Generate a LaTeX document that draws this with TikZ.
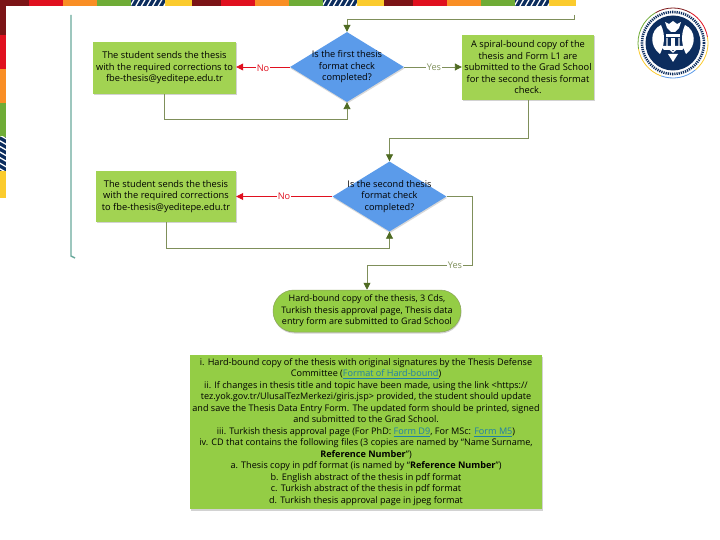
\documentclass[tikz,border=0pt]{standalone}
\usepackage{fontspec}
\setmainfont{Open Sans}
\usepackage{xcolor}
\usetikzlibrary{arrows.meta}
\usetikzlibrary{shapes.geometric}
\usetikzlibrary{shapes.misc}
\usetikzlibrary{shadows}
\definecolor{darkred}{HTML}{7B1416}
\definecolor{midred}{HTML}{E0101F}
\definecolor{midorange}{HTML}{F98E25}
\definecolor{midgreen}{HTML}{6FAC37}
\definecolor{midyellow}{HTML}{FBCB2D}
\definecolor{navy}{HTML}{0C2D5E}
\definecolor{boxgreen}{HTML}{A2D352}
\definecolor{bigboxgreen}{HTML}{94CD45}
\definecolor{diablue}{HTML}{5B9BEA}
\definecolor{linegreen}{HTML}{7F8F5A}
\definecolor{tipgreen}{HTML}{4F6B22}
\definecolor{linkblue}{HTML}{1F7FA8}
\definecolor{railteal}{HTML}{69A99C}
\tikzset{
  stepbox/.style={draw=none,fill=boxgreen,drop shadow={shadow xshift=0.5pt,shadow yshift=-1.5pt,opacity=0.35},align=center,font=\fontsize{9.3}{11.5}\selectfont,inner sep=0pt},
  checkdia/.style={shape=diamond,aspect=1.63,fill=diablue,draw=none,drop shadow={shadow xshift=0.5pt,shadow yshift=-1.5pt,opacity=0.3},minimum width=114pt,minimum height=70pt,inner sep=-12pt,align=center,font=\fontsize{9.2}{11.5}\selectfont},
  answer/.style={fill=white,inner sep=1pt,font=\fontsize{9.2}{10}\selectfont},
  goline/.style={draw=linegreen,line width=0.9pt},
  goarrow/.style={goline,-{Triangle[length=7pt,width=7pt,color=tipgreen]}},
  noarrow/.style={draw=midred,line width=0.8pt,-{Triangle[length=7pt,width=7pt]}},
}
\newcommand{\hlink}[1]{\textcolor{linkblue}{\underline{#1}}}
\begin{document}
\begin{tikzpicture}[x=1pt,y=-1pt]
\useasboundingbox (0,0) rectangle (720,540);
\fill[white] (0,0) rectangle (720,540);

\foreach \xa/\xb/\c in {0/29/darkred,29/63/midred,63/97/midorange,97/131/midgreen,165/192/midyellow,192/221/darkred,221/255/midred,255/289/midorange,289/323/midgreen,357/384/midyellow,384/413/darkred,413/447/midred,447/481/midorange,481/515/midgreen,549/576/midyellow}
  \fill[\c] (\xa,0) rectangle (\xb,6);
\foreach \xa/\xb in {131/165,323/357,515/549} {
  \fill[navy] (\xa,0) rectangle (\xb,6);
  \begin{scope}
    \clip (\xa,0) rectangle (\xb,6);
    \foreach \k in {0,...,6}
      \draw[white,line width=1.3pt] (\xa+\k*5.6-1,6.5) -- (\xa+\k*5.6+3,-0.5);
  \end{scope}
}
\foreach \ya/\yb/\c in {6/35/darkred,35/69/midred,69/103/midorange,103/137/midgreen,171/198/midyellow}
  \fill[\c] (0,\ya) rectangle (6,\yb);
\fill[navy] (0,137) rectangle (6,171);
\begin{scope}
  \clip (0,137) rectangle (6,171);
  \foreach \k in {0,...,6}
    \draw[white,line width=1.3pt] (-0.5,135+\k*5.6) -- (6.5,139+\k*5.6);
\end{scope}

\draw[railteal,line width=1.4pt] (71,15) -- (71,256) -- (75,258);

\node[stepbox,minimum width=143pt,minimum height=52pt] (sendone) at (164.5,68) {The student sends the thesis\\with the required corrections to\\fbe-thesis@yeditepe.edu.tr};
\node[stepbox,minimum width=140pt,minimum height=51pt] (sendtwo) at (166,196.5) {The student sends the thesis\\with the required corrections\\to fbe-thesis@yeditepe.edu.tr};
\node[stepbox,minimum width=132pt,minimum height=65pt] (spiral) at (528,67.5) {A spiral-bound copy of the\\thesis and Form L1 are\\submitted to the Grad School\\for the second thesis format\\check.};
\node[checkdia] (firstcheck) at (347,67) {Is the first thesis\\format check\\completed?};
\node[checkdia] (secondcheck) at (389.5,196.5) {Is the second thesis\\format check\\completed?};
\node[stepbox,fill=bigboxgreen,shape=rounded rectangle,draw=linegreen!70!boxgreen,line width=0.5pt,minimum width=188pt,minimum height=42pt,font=\fontsize{9}{11.5}\selectfont] (hardbound) at (367,311) {Hard-bound copy of the thesis, 3 Cds,\\Turkish thesis approval page, Thesis data\\entry form are submitted to Grad School};
\node[stepbox,fill=bigboxgreen,minimum width=352pt,minimum height=154pt,font=\fontsize{9.1}{11.5}\selectfont] (docs) at (366,432) {i. Hard-bound copy of the thesis with original signatures by the Thesis Defense\\Committee (\hlink{Format of Hard-bound})\\ii. If changes in thesis title and topic have been made, using the link <https://\\tez.yok.gov.tr/UlusalTezMerkezi/giris.jsp> provided, the student should update\\and save the Thesis Data Entry Form. The updated form should be printed, signed\\and submitted to the Grad School.\\iii. Turkish thesis approval page (For PhD: \hlink{Form D9}, For MSc: \hlink{Form M5})\\iv. CD that contains the following files (3 copies are named by “Name Surname,\\\textbf{Reference Number}”)\\a. Thesis copy in pdf format (is named by “\textbf{Reference Number}”)\\b. English abstract of the thesis in pdf format\\c. Turkish abstract of the thesis in pdf format\\d. Turkish thesis approval page in jpeg format};

\coordinate (intop) at (574,15);
\draw[goline] (intop) -- (574,19) -- (347,19);
\draw[goarrow] (347,19) -- (firstcheck.north);
\draw[goarrow] (sendone.south) |- (347,119) -- (firstcheck.south);
\draw[goarrow] (spiral.south) |- (389.5,138) -- (secondcheck.north);
\draw[goarrow] (sendtwo.south) |- (389.5,248) -- (secondcheck.south);
\draw[goarrow] (secondcheck.east) -- (472,196.5) |- (367,265) -- (hardbound.north);
\draw[noarrow] (firstcheck.west) -- (firstcheck.west -| sendone.east);
\draw[noarrow] (secondcheck.west) -- (secondcheck.west -| sendtwo.east);
\draw[goarrow] (firstcheck.east) -- (firstcheck.east -| spiral.west);
\node[answer,text=midred] (noone) at (263,68) {No};
\node[answer,text=midred] (notwo) at (284,196.5) {No};
\node[answer,text=linegreen] (yesone) at (434,67.5) {Yes};
\node[answer,text=linegreen] (yestwo) at (455,265) {Yes};

\foreach \a/\b/\c in {10/60/midred,60/120/darkred,120/190/midgreen,190/250/midyellow,250/310/diablue,310/370/midyellow}
  \draw[\c,line width=0.8pt] ({673+35*cos(\a)},{43-35*sin(\a)}) arc[start angle=-\a,end angle=-\b,radius=35];
\fill[navy] (673,43) circle (27.5);
\draw[navy,line width=2.6pt,dash pattern=on 1.2pt off 1pt] (673,43) circle (31);
\fill[white] (673,21) -- (677,24) -- (681,22) -- (679,28) -- (675,32) -- (671,32) -- (667,28) -- (665,22) -- (669,24) -- cycle;
\fill[white] (661,25) .. controls (650,30) and (649,46) .. (660,54) .. controls (664,46) and (666,36) .. (661,25) -- cycle;
\fill[white] (685,25) .. controls (696,30) and (697,46) .. (686,54) .. controls (682,46) and (680,36) .. (685,25) -- cycle;
\fill[white] (666,34) rectangle (680,37);
\draw[white,line width=1.2pt] (667,38) -- (667,47) -- (673,52) -- (679,47) -- (679,38);
\fill[white] (671,38) rectangle (675,48);
\fill[white] (660,46) -- (686,46) -- (682,50) -- (664,50) -- cycle;
\fill[white] (668,54) -- (678,54) -- (673,62) -- cycle;
\end{tikzpicture}
\end{document}
